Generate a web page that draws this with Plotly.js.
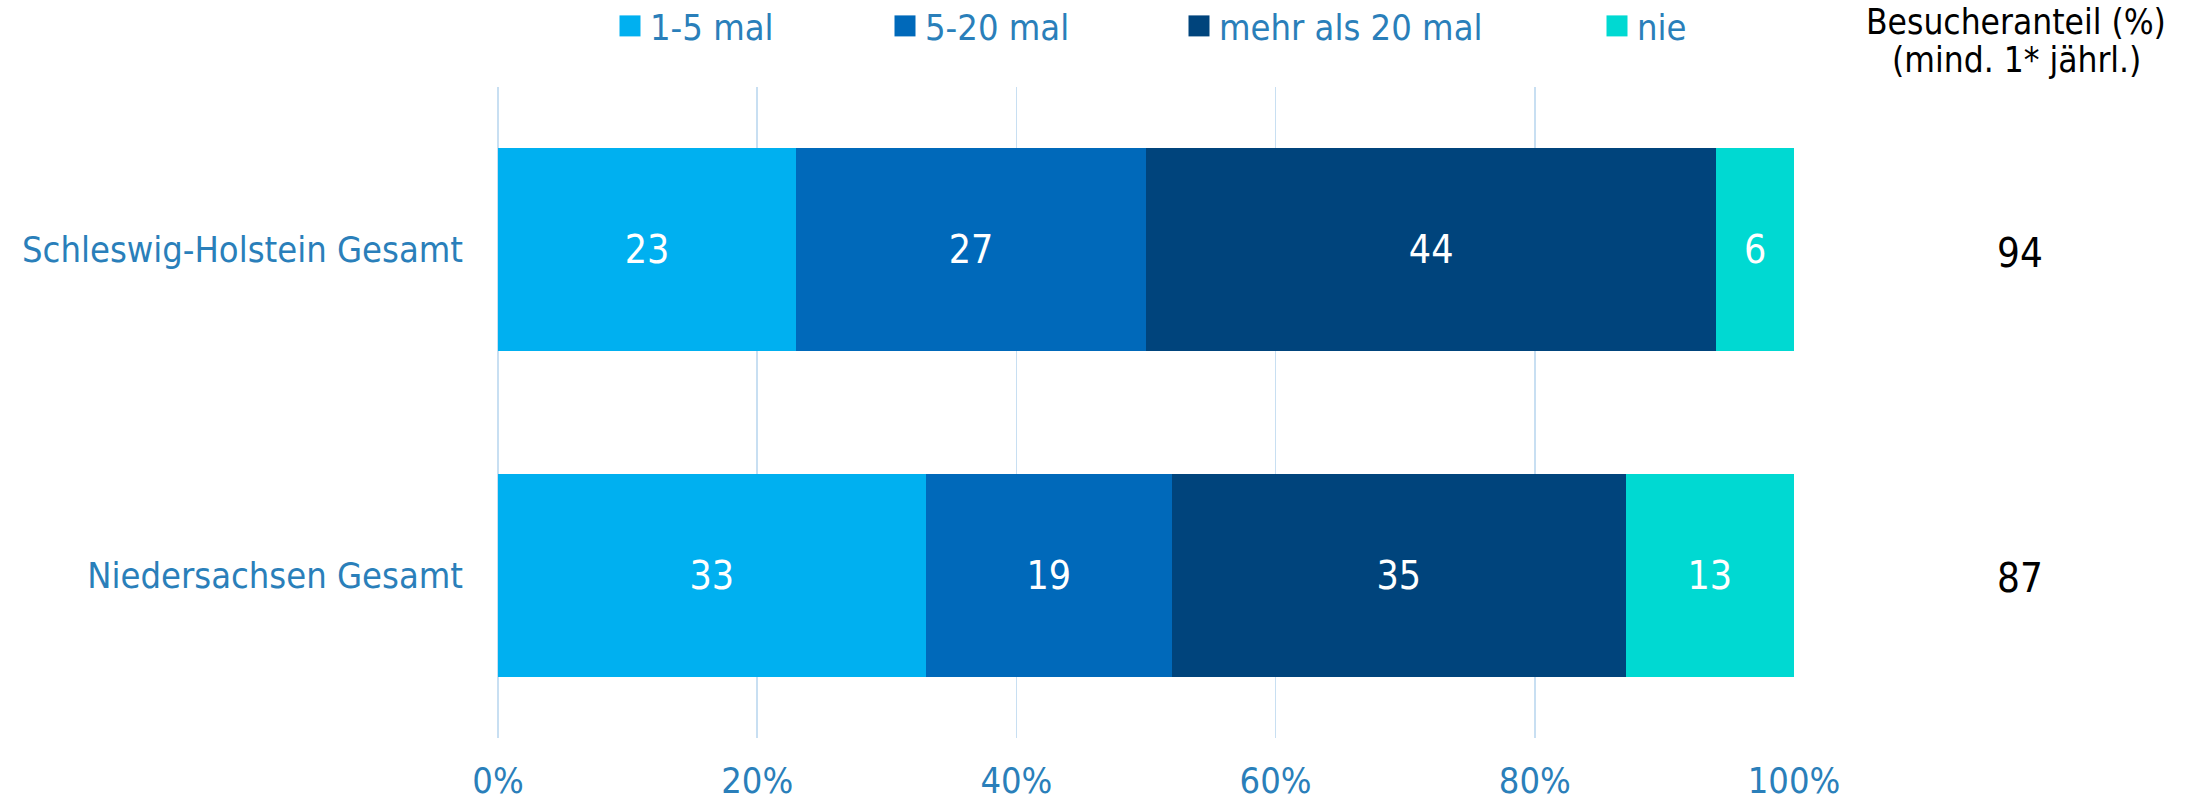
<!DOCTYPE html>
<html>
<head>
<meta charset="utf-8">
<script src="https://cdn.plot.ly/plotly-3.0.1.min.js"></script>
<style>html,body{margin:0;padding:0;background:#fff;}#chart{width:2204px;height:803px;}</style>
</head>
<body>
<div id="chart"></div>
<script>
const categories = ['Schleswig-Holstein Gesamt', 'Niedersachsen Gesamt'];
const seriesNames = ['1-5 mal', '5-20 mal', 'mehr als 20 mal', 'nie'];
const s15 = [23, 33];
const s520 = [27, 19];
const s20plus = [44, 35];
const sNie = [6, 13];
const besucheranteil = [94, 87];
const headerLines = ['Besucheranteil (%)', '(mind. 1* jährl.)'];
const xTicks = [0, 20, 40, 60, 80, 100];
const xTickLabels = ['0%', '20%', '40%', '60%', '80%', '100%'];

const colors = ['#00B0F0', '#0069BA', '#00447C', '#00D9D2'];
const FONT = '"DejaVu Sans Condensed", "Liberation Sans", Arial, sans-serif';
const BLUE = '#2A7FBA';

const allSeries = [s15, s520, s20plus, sNie];
const legendIds = ['legend', 'legend2', 'legend3', 'legend4'];
const legendX = [610, 885, 1179, 1597];

const traces = allSeries.map((vals, i) => ({
  type: 'bar',
  orientation: 'h',
  name: seriesNames[i],
  y: categories,
  x: vals,
  marker: {color: colors[i], line: {width: 0}},
  text: vals.map(String),
  texttemplate: '%{text}',
  textposition: 'inside',
  insidetextanchor: 'middle',
  constraintext: 'none',
  textfont: {color: '#FFFFFF', size: 39, family: FONT},
  legend: legendIds[i],
  hoverinfo: 'skip'
}));

const layout = {
  width: 2204,
  height: 803,
  margin: {l: 498, r: 410, t: 87, b: 65},
  paper_bgcolor: '#FFFFFF',
  plot_bgcolor: '#FFFFFF',
  barmode: 'stack',
  bargap: 0.376,
  font: {family: FONT, color: BLUE},
  xaxis: {
    range: [0, 100],
    tickmode: 'array',
    tickvals: xTicks,
    ticktext: xTickLabels,
    showgrid: true,
    gridcolor: '#C8DFF2',
    gridwidth: 1.5,
    zeroline: true,
    zerolinecolor: '#C8DFF2',
    zerolinewidth: 1.5,
    showline: false,
    ticks: '',
    ticklabelstandoff: 18,
    tickfont: {size: 36, color: BLUE, family: FONT},
    fixedrange: true
  },
  yaxis: {
    type: 'category',
    autorange: false,
    range: [1.5, -0.5],
    showgrid: false,
    zeroline: false,
    showline: false,
    ticks: '',
    ticklabelstandoff: 34,
    tickfont: {size: 36, color: BLUE, family: FONT},
    fixedrange: true
  },
  annotations: [
    ...headerLines.map((t, i) => ({
      text: t, xref: 'paper', yref: 'paper',
      x: (2016 - 498) / 1296, y: i === 0 ? (738 - 22) / 651 : (738 - 60) / 651,
      xanchor: 'center', yanchor: 'middle', showarrow: false,
      font: {size: 35, color: '#000000', family: FONT}
    })),
    ...besucheranteil.map((v, i) => ({
      text: String(v), xref: 'paper', yref: 'y',
      x: (2020 - 498) / 1296, y: categories[i],
      xanchor: 'center', yanchor: 'middle', showarrow: false, yshift: -3,
      font: {size: 40, color: '#000000', family: FONT}
    }))
  ],
  showlegend: true
};

legendIds.forEach((id, i) => {
  layout[id] = {
    orientation: 'h',
    xref: 'container', yref: 'container',
    x: legendX[i] / 2204, xanchor: 'left',
    y: 1 - 26 / 803, yanchor: 'middle',
    bgcolor: 'rgba(0,0,0,0)', borderwidth: 0,
    font: {size: 36, color: BLUE, family: FONT},
    itemclick: false, itemdoubleclick: false
  };
});

Plotly.newPlot('chart', traces, layout, {staticPlot: true, displayModeBar: false}).then(() => {
  document.querySelectorAll('.legendpoints path').forEach(p => {
    p.setAttribute('d', 'M10.5,10.5H-10.5V-10.5H10.5Z');
  });
});
</script>
</body>
</html>
